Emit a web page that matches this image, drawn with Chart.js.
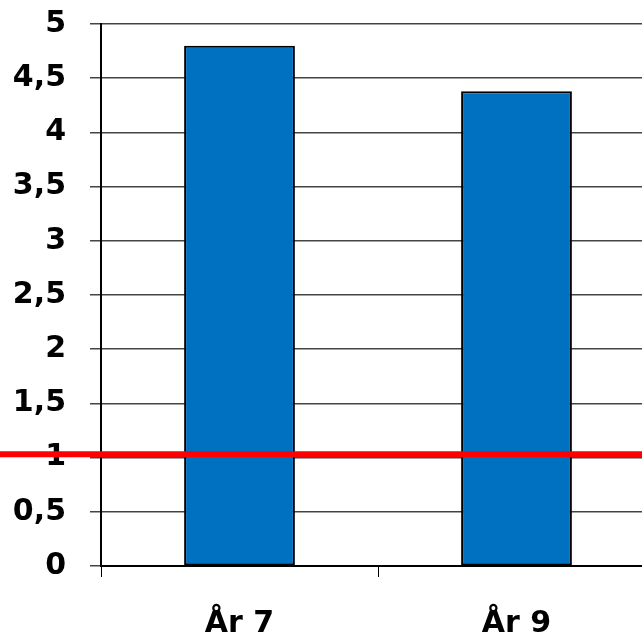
<!DOCTYPE html>
<html>
<head>
<meta charset="utf-8">
<script src="https://cdn.jsdelivr.net/npm/chart.js@4/dist/chart.umd.min.js"></script>
<style>
  html, body { margin: 0; padding: 0; background: #fff; overflow: hidden; }
  #wrap { position: absolute; left: 0; top: -18px; }
</style>
</head>
<body>
<div id="wrap"><canvas id="c" width="660" height="670"></canvas></div>
<script>
// Categories and values
const categories = ['År 7', 'År 9'];
const values = [4.8, 4.38];
// Reference level marked by the red line
const referenceLevel = 1.03;
// Y-axis tick labels (Swedish decimal comma)
const yTickLabels = ['0', '0,5', '1', '1,5', '2', '2,5', '3', '3,5', '4', '4,5', '5'];

const FONT = "'DejaVu Sans', sans-serif";

// Draws the horizontal reference line across the full canvas width
const referenceLinePlugin = {
  id: 'referenceLine',
  afterDatasetsDraw(chart) {
    const y = chart.scales.y.getPixelForValue(referenceLevel);
    const ctx = chart.ctx;
    ctx.save();
    ctx.strokeStyle = '#ff0000';
    ctx.lineWidth = 6;
    ctx.beginPath();
    ctx.moveTo(0, y);
    ctx.lineTo(chart.width, y);
    ctx.stroke();
    ctx.restore();
  }
};

new Chart(document.getElementById('c'), {
  type: 'bar',
  data: {
    labels: categories,
    datasets: [{
      data: values,
      backgroundColor: '#0070c0',
      borderColor: '#000000',
      borderWidth: 2,
      borderSkipped: false,
      categoryPercentage: 1,
      barPercentage: 0.4
    }]
  },
  options: {
    responsive: false,
    animation: false,
    layout: { padding: { left: 0, right: 5, top: 0, bottom: 0 } },
    plugins: { legend: { display: false }, tooltip: { enabled: false } },
    scales: {
      x: {
        offset: true,
        grid: {
          offset: true,
          drawOnChartArea: false,
          drawTicks: true,
          tickLength: 11,
          color: '#000000',
          lineWidth: 1
        },
        border: { display: true, color: '#000000', width: 2 },
        ticks: {
          color: '#000000',
          padding: 29,
          font: { family: FONT, size: 30, weight: 'bold' }
        },
        afterFit(scale) { scale.height = 86; }
      },
      y: {
        min: 0,
        max: 5,
        ticks: {
          stepSize: 0.5,
          color: '#000000',
          padding: 24,
          font: { family: FONT, size: 30, weight: 'bold' },
          callback: (value, index) => yTickLabels[index]
        },
        grid: {
          color: '#444444',
          lineWidth: 1.5,
          tickLength: 11,
          drawTicks: true
        },
        border: { display: true, color: '#000000', width: 2 },
        afterFit(scale) { scale.width = 101; }
      }
    }
  },
  plugins: [referenceLinePlugin]
});
</script>
</body>
</html>
